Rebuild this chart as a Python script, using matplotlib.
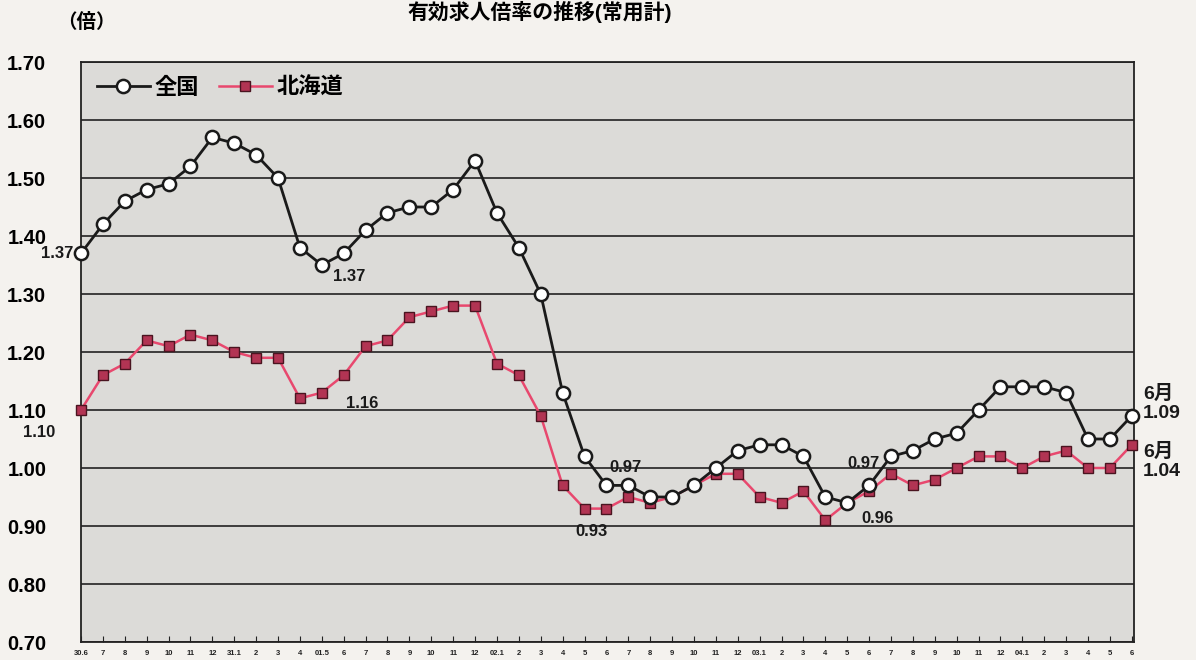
import numpy as np
import matplotlib.pyplot as plt

# month labels (H30.6 - R4.6)
months = ["30.6", "7", "8", "9", "10", "11", "12", "31.1", "2", "3", "4",
          "01.5", "6", "7", "8", "9", "10", "11", "12",
          "02.1", "2", "3", "4", "5", "6", "7", "8", "9", "10", "11", "12",
          "03.1", "2", "3", "4", "5", "6", "7", "8", "9", "10", "11", "12",
          "04.1", "2", "3", "4", "5", "6"]

national = [1.37, 1.42, 1.46, 1.48, 1.49, 1.52, 1.57, 1.56, 1.54, 1.50,
            1.38, 1.35, 1.37, 1.41, 1.44, 1.45, 1.45, 1.48, 1.53, 1.44,
            1.38, 1.30, 1.13, 1.02, 0.97, 0.97, 0.95, 0.95, 0.97, 1.00,
            1.03, 1.04, 1.04, 1.02, 0.95, 0.94, 0.97, 1.02, 1.03, 1.05,
            1.06, 1.10, 1.14, 1.14, 1.14, 1.13, 1.05, 1.05, 1.09]

hokkaido = [1.10, 1.16, 1.18, 1.22, 1.21, 1.23, 1.22, 1.20, 1.19, 1.19,
            1.12, 1.13, 1.16, 1.21, 1.22, 1.26, 1.27, 1.28, 1.28, 1.18,
            1.16, 1.09, 0.97, 0.93, 0.93, 0.95, 0.94, 0.95, 0.97, 0.99,
            0.99, 0.95, 0.94, 0.96, 0.91, 0.94, 0.96, 0.99, 0.97, 0.98,
            1.00, 1.02, 1.02, 1.00, 1.02, 1.03, 1.00, 1.00, 1.04]

plt.rcParams['font.family'] = ['Liberation Sans', 'Noto Sans CJK JP']
plt.rcParams['font.weight'] = 'bold'

fig = plt.figure(figsize=(11.96, 6.60), dpi=100, facecolor='#f4f2ee')
ax = fig.add_axes([81 / 1196, 1 - 642 / 660, (1134 - 81) / 1196, 580 / 660])
ax.set_facecolor('#dcdbd8')

x = np.arange(len(months))

ax.plot(x, national, color='#1a1a1a', lw=2, marker='o', ms=9.5,
        mfc='white', mec='#1a1a1a', mew=1.8, label='全国', zorder=4, clip_on=False)
ax.plot(x, hokkaido, color='#e8486e', lw=1.8, marker='s', ms=7,
        mfc='#b23453', mec='#4a1420', mew=1.0, label='北海道', zorder=3, clip_on=False)

ax.set_xlim(0, len(months) - 1 + 0.1)
ax.set_ylim(0.70, 1.70)
ax.set_yticks(np.arange(0.70, 1.71, 0.10))
ax.set_yticklabels([f"{v:.2f}" for v in np.arange(0.70, 1.71, 0.10)])
ax.yaxis.grid(True, color='#222222', lw=1.2)
ax.set_axisbelow(True)

ax.set_xticks(x)
ax.set_xticklabels(months, fontsize=5.5, fontweight='bold')
ax.tick_params(axis='x', direction='in', length=4, width=0.8, pad=6, colors='#222222')
ax.tick_params(axis='y', length=0, pad=25, labelsize=14.5)
for s in ax.spines.values():
    s.set_color('#222222')
    s.set_linewidth(1.3)

leg = ax.legend(loc='upper left', ncol=2, frameon=False, fontsize=16,
                handlelength=2.4, handletextpad=0.2, columnspacing=0.9,
                borderaxespad=0.3, numpoints=1)

# data labels
def note(txt, i, series, dx, dy, ha='center', size=12):
    ax.annotate(txt, (i, series[i]), xytext=(dx, dy), textcoords='offset pixels',
                ha=ha, va='center', fontsize=size, fontweight='bold',
                color='#1a1a1a', annotation_clip=False, linespacing=1.15)

note("1.37", 0, national, -8, 0, ha='right')
note("1.37", 11, national, 27, -11)
note("1.16", 12, hokkaido, 18, -28)
note("1.10", 0, hokkaido, -26, -22, ha='right')
note("0.97", 25, national, -3, 18)
note("0.93", 24, hokkaido, -15, -23)
note("0.97", 36, national, -6, 22)
note("0.96", 36, hokkaido, 8, -27)
note("6月\n1.09", 48, national, 11, 12, ha='left', size=14)
note("6月\n1.04", 48, hokkaido, 11, -17, ha='left', size=14)

fig.text(86 / 1196, 1 - 22 / 660, "（倍）", fontsize=14, fontweight='bold',
         ha='center', va='center')
fig.text(540 / 1196, 1 - 1 / 660, "有効求人倍率の推移(常用計)", fontsize=15, fontweight='bold',
         ha='center', va='top')

fig.savefig("out.png", dpi=100, facecolor=fig.get_facecolor())
